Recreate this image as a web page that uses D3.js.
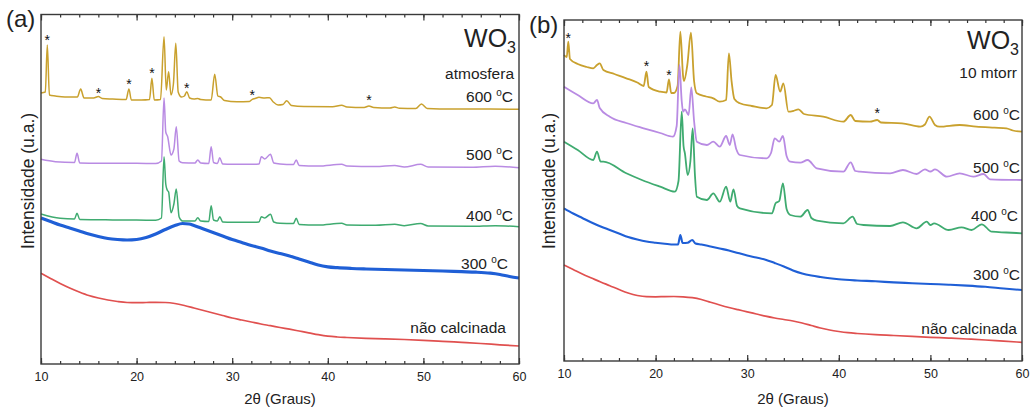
<!DOCTYPE html>
<html>
<head>
<meta charset="utf-8">
<script src="https://cdnjs.cloudflare.com/ajax/libs/d3/7.8.5/d3.min.js"></script>
<style>
  body { margin: 0; background: #fff; }
  text { font-family: "Liberation Sans", Arial, sans-serif; fill: #222; }
</style>
</head>
<body>
<script>

// ---- data: [2theta, intensity (a.u.)] ----

// panel (a) - atmosfera
var atm600 = [[10,271],[10.45,272],[10.66,319],[10.88,269],[11.5,268],[12.5,267],[13.8,267],[14.15,275],[14.5,266],[15.5,266],[16,267.5],[16.4,265.5],[17.5,265],[18.9,264.5],[19.2,275],[19.45,264],[20.5,264],[21.35,264.5],[21.6,285.7],[21.85,264],[22.5,264.5],[22.87,327.3],[23.1,274],[23.35,292.3],[23.6,269],[23.85,280],[24.1,320.7],[24.35,272],[24.7,267],[25,268],[25.25,272.3],[25.55,266],[26,265],[26.4,265.5],[26.7,264.5],[27.8,264],[28.17,289.7],[28.5,268],[28.8,267],[29.2,263.5],[30.5,262.3],[31.8,262.5],[32.1,264.7],[32.4,265.5],[32.8,266.7],[33.4,266],[33.9,266.3],[34.3,262],[34.8,259],[35.3,259.5],[35.7,263.3],[36.2,258.5],[37.5,257.5],[40.5,257.3],[41.45,258.7],[42,257],[43.8,256.5],[44.3,258],[44.8,256.5],[46.5,256],[47,257],[47.5,255.7],[49.2,255.5],[49.8,260],[50.4,255.5],[53,255],[55,255],[57,255],[60,254.7]];
var atm500 = [[10,204.7],[11.5,202.3],[13.5,201.5],[13.77,210.7],[14.05,201],[16,200.7],[18,200.7],[20,200.7],[22,200.5],[22.6,203],[22.87,266],[23.05,232],[23.25,227.3],[23.6,209],[23.9,215],[24.15,237.3],[24.45,203],[24.8,201.3],[26.1,201],[26.4,204],[26.7,201],[27.55,200.5],[27.8,217.3],[28.05,201.5],[28.45,200.5],[28.7,206.3],[29,200],[30,199.7],[32,199.7],[32.8,200],[33.05,207.3],[33.4,205],[34,209.7],[34.35,201],[35,200],[36.4,199.5],[36.7,204],[37,198.5],[39,198],[41.45,199.7],[42,198],[45,197.5],[47,198.5],[48,197],[49.7,199.7],[50.5,197],[55,196.7],[57.5,197.7],[60,196.3]];
var atm400 = [[10,150],[12,145.7],[13.5,145],[13.77,150.7],[14.05,144.5],[16,144.3],[18,144],[20,144],[22,143.7],[22.6,146],[22.87,207.3],[23.05,180],[23.2,174],[23.35,172],[23.6,151.3],[23.9,160],[24.15,175],[24.45,147],[24.8,143],[26.1,143],[26.4,146.3],[26.7,143],[27.55,142.5],[27.8,158.3],[28.05,144],[28.45,143],[28.7,147.3],[29,142],[30,141.7],[32,141.7],[32.8,142],[33.05,147.3],[33.4,146],[34,149.7],[34.35,142],[35,140.7],[36.4,140.5],[36.7,145.7],[37,139.5],[39,139],[41.45,140.7],[42,139],[45,138.7],[47,139.7],[48,138.3],[49.7,140.5],[50.5,138],[55,137.7],[57.5,138.3],[60,137.3]];
var atm300 = [[10,146],[11,142.5],[12,139],[13,136],[14,133],[15,130],[16,127.5],[17,125.5],[18,124.5],[19,124],[20,124.5],[21,126.5],[22,130],[23,134.5],[24,138.5],[24.8,140.5],[25.5,140],[26,138.5],[27,135],[28,131.5],[29,128],[30,124.5],[31,121.5],[32,118.5],[33,116],[34,113],[35,110.5],[36,108],[37,105],[38,102],[39,99],[40,97.2],[41,96.3],[42.5,95.5],[44,95],[46,94.5],[48,94],[50,93.5],[52,93],[54,92.3],[55.5,91.8],[57,90.8],[58,89.5],[59,87.5],[60,86]];
var atmRaw = [[10,90.7],[11,85.5],[12,80.5],[13,76],[14,72],[15,68.5],[16,66],[17,64],[18,62.5],[19,61.5],[20,61.3],[21,61.5],[22,61.7],[23,61.5],[24,60.5],[25,58.5],[26,56],[27,53.5],[28,51],[29,48.5],[30,46],[31,44],[32,42],[33,40],[34,38.3],[35,36.5],[36,34.8],[37,33],[38,31.2],[39,29.3],[40,27.8],[41,27],[42,26.5],[44,25.7],[46,25.1],[48,24.5],[50,23.7],[52,22.7],[54,21.6],[56,20.5],[58,19.2],[60,18]];
var atmStars = [[10.66,327],[16,274],[19.2,283.3],[21.6,294],[25.25,279.3],[32.1,272.3],[44.3,266.7]];
var atmLabelY = [262.3, 204, 143.3, 95, 31.3];

// panel (b) - 10 mtorr
var mt600 = [[10,306],[10.3,304],[10.47,319.3],[10.65,302],[11.5,297],[12.5,294],[13.2,292.7],[13.6,296],[13.9,297.7],[14.3,291],[15.5,287],[16.8,282.7],[18,278.5],[18.7,275],[19,289.3],[19.25,274],[20.5,269.3],[21.2,268.5],[21.46,281.7],[21.7,268],[22,268],[22.4,275],[22.7,329.3],[23,285],[23.1,280],[23.46,296],[23.86,328.3],[24.2,280],[24.5,267.7],[25.5,264.5],[26.3,262.7],[27,259.3],[27.7,261],[28,307.7],[28.3,279.3],[28.6,262],[29.2,257.7],[30.5,255],[32.1,252.7],[32.7,256],[33.1,286],[33.6,269.3],[33.95,277.7],[34.5,249.3],[35,250],[35.6,251.7],[36.2,247],[38.3,244.3],[40.5,239.3],[41.3,246],[41.8,240],[43.4,239.3],[44.2,241],[44.6,238.5],[46.9,237.7],[48.9,234.3],[49.4,236.5],[49.9,244.3],[50.5,236],[51,234.3],[53.2,236],[55,234.3],[57,233.3],[58.3,232.7],[59,230.5],[60,229.3]];
var mt500 = [[10,274.3],[11.5,266],[13.2,257.7],[13.6,261],[13.9,253],[15,244.3],[16.8,238],[18.7,232.7],[20.5,228],[21.9,224.3],[22.3,235],[22.6,296],[22.85,260],[23,249.3],[23.2,251.7],[23.6,246],[23.9,273.7],[24.2,240],[24.5,219.3],[25.6,216],[26.3,219.3],[27,214.3],[27.7,225],[28.1,216],[28.4,226.7],[28.8,212],[29.2,206],[32.1,202.7],[32.6,208],[33,222.7],[33.5,219.3],[33.9,225],[34.3,205],[34.7,199.3],[35.8,198.3],[36.6,201],[37.6,192.7],[40.5,189.3],[41.3,198.7],[41.8,190],[42.3,189.3],[45.6,187.7],[47,191],[48.5,187],[49.4,191.7],[50,189.5],[50.5,191.7],[51.8,184.3],[53.2,187.7],[54.7,184.3],[55.8,187],[56.5,181.7],[60,181]];
var mt400 = [[10,219.3],[11.5,211],[13.2,201],[13.6,209.3],[14,199.3],[14.3,199.3],[16.8,187.7],[18.5,181],[20.5,174.3],[22.1,169.3],[22.5,180],[22.85,249.3],[23.05,215],[23.2,207.7],[23.5,186],[23.8,200],[24.05,232.7],[24.3,185],[24.5,164.3],[25.6,161],[26.3,167.7],[27,159.3],[27.7,174.3],[28.15,159.3],[28.5,171.7],[28.9,155],[29.2,152.7],[32.7,147.7],[33.1,157.7],[33.5,160],[33.9,177.7],[34.3,152],[34.7,146],[35.8,144.3],[36.6,151],[37,143],[37.6,140.3],[40.5,137.7],[41.5,144.3],[42,137],[42.7,136],[45.6,135],[47,138.7],[48.5,132.7],[49.6,139.3],[50,136],[50.4,137.7],[52,131],[53.4,133.7],[54.5,131],[55.6,136.7],[56.7,129.3],[58.3,128.5],[60,127.7]];
var mt300 = [[10,152.7],[11,147.5],[12,143],[13,138.5],[14,134.5],[15,131],[16,127.5],[17,124],[18,121.5],[19,119.5],[20,118.3],[21,117.3],[22,116.5],[22.45,116.5],[22.7,126],[22.95,118],[23.5,118.3],[24,121],[24.35,117.5],[25,116.5],[26,114.5],[27,112.5],[28,110.5],[29,108],[30,105.5],[31,103.5],[32,101.3],[33,98],[34,94.5],[35,90.5],[36,87.5],[37,85.5],[38,84],[39,82.7],[40,81.7],[42,80.5],[44,79.7],[46,78.6],[48,77.8],[50,77],[52,76.3],[54,75.4],[56,74.2],[58,72.5],[60,71]];
var mtRaw = [[10,96],[11,91.5],[12,87],[13,83],[14,79],[15,75.3],[16,71.5],[17,68],[18,65.5],[19,64.3],[20,64.2],[21,64.4],[22,64.5],[23,64.2],[24,63.3],[25,61.5],[26,58.7],[27,56],[28,53.5],[29,51.3],[30,49.2],[31,47],[32,44.8],[33,43],[34,41.5],[35,40],[36,38],[37,35.5],[38,33],[39,31],[40,29.5],[41,28.3],[42,27.5],[44,26.3],[46,25.5],[48,24.6],[50,23.7],[52,22.9],[54,22],[56,21],[58,19.8],[60,18.7]];
var mtStars = [[10.47,326],[19,297.7],[21.46,289.3],[44.2,251]];
var mtLabelY = [241, 187.7, 140.3, 81, 27];

var tempLabels = ["600", "500", "400", "300"];
var rawLabel = "não calcinada";
var xMajor = [10, 20, 30, 40, 50, 60];
var xMinor = d3.range(10, 61, 2);
var colors = ["#c9a12e", "#b98be3", "#3fab70", "#1f5fd6", "#e0504f"];

// ---- layout ----
var svg = d3.select("body").append("svg")
    .attr("width", 1030)
    .attr("height", 409);

var panels = [
  {left: 41, right: 519, top: 14.5, bottom: 364, ymax: 349.5,
   letter: "(a)", letterX: 6, letterY: 27, cond: "atmosfera", condY: 284.7, woY: 317.3,
   series: [atm600, atm500, atm400, atm300, atmRaw], widths: [1.5, 1.5, 1.5, 3.2, 1.7],
   stars: atmStars, labelY: atmLabelY, labelDx: [-6, -6, -6, -11, -13], yTitleX: 34},
  {left: 564, right: 1022, top: 20, bottom: 361, ymax: 341,
   letter: "(b)", letterX: 529, letterY: 33, cond: "10 mtorr", condY: 282.7, woY: 311.7,
   series: [mt600, mt500, mt400, mt300, mtRaw], widths: [1.8, 1.8, 1.8, 2.1, 1.7],
   stars: mtStars, labelY: mtLabelY, labelDx: [-2, -2, -4, -2, -5], yTitleX: 555}
];

panels.forEach(function(p) {

  var x = d3.scaleLinear().domain([10, 60]).range([p.left, p.right]);
  var y = d3.scaleLinear().domain([0, p.ymax]).range([p.bottom, p.top]);

  var g = svg.append("g");

  // curves
  var line = d3.line()
      .curve(d3.curveMonotoneX)
      .x(function(d) { return x(d[0]); })
      .y(function(d) { return y(d[1]); });

  p.series.forEach(function(s, i) {
    g.append("path")
      .datum(s)
      .attr("fill", "none")
      .attr("stroke", colors[i])
      .attr("stroke-width", p.widths[i])
      .attr("stroke-linejoin", "round")
      .attr("d", line);
  });

  // stars on the peaks
  g.selectAll(".star")
    .data(p.stars)
    .enter().append("text")
    .attr("x", function(d) { return x(d[0]); })
    .attr("y", function(d) { return y(d[1]) + 8; })
    .attr("text-anchor", "middle")
    .style("font-size", "14px")
    .style("fill", "#111")
    .text("*");

  // axes, ticks pointing inside
  var bottomMinor = d3.axisBottom(x).tickValues(xMinor).tickSize(-3).tickFormat("");
  var bottomMajor = d3.axisBottom(x).tickValues(xMajor).tickSize(-6).tickPadding(8).tickFormat(d3.format("d"));
  var topMinor = d3.axisTop(x).tickValues(xMinor).tickSize(-3).tickFormat("");
  var topMajor = d3.axisTop(x).tickValues(xMajor).tickSize(-6).tickFormat("");

  [bottomMinor, bottomMajor].forEach(function(ax) {
    g.append("g").attr("transform", "translate(0," + p.bottom + ")").call(ax);
  });
  [topMinor, topMajor].forEach(function(ax) {
    g.append("g").attr("transform", "translate(0," + p.top + ")").call(ax);
  });
  g.selectAll(".domain").remove();
  g.selectAll(".tick line").attr("stroke", "#333").attr("stroke-width", 1.2);
  g.selectAll(".tick text")
    .style("font-size", "12.5px")
    .style("font-family", "'Liberation Sans', Arial, sans-serif")
    .attr("fill", "#222");

  // frame
  g.append("rect")
    .attr("x", p.left)
    .attr("y", p.top)
    .attr("width", p.right - p.left)
    .attr("height", p.bottom - p.top)
    .attr("fill", "none")
    .attr("stroke", "#3a3a3a")
    .attr("stroke-width", 1.4);

  // axis titles
  g.append("text")
    .attr("x", (p.left + p.right) / 2)
    .attr("y", 404)
    .attr("text-anchor", "middle")
    .style("font-size", "15px")
    .text("2θ (Graus)");

  g.append("text")
    .attr("transform", "translate(" + p.yTitleX + ",181) rotate(-90)")
    .attr("text-anchor", "middle")
    .style("font-size", "17.5px")
    .text("Intensidade (u.a.)");

  // panel letter
  g.append("text")
    .attr("x", p.letterX)
    .attr("y", p.letterY)
    .style("font-size", "24px")
    .text(p.letter);

  // WO3 and condition
  var wo = g.append("text")
    .attr("x", p.right - 3)
    .attr("y", y(p.woY))
    .attr("text-anchor", "end")
    .style("font-size", "25px");
  wo.append("tspan").text("WO");
  wo.append("tspan").attr("dy", 6).style("font-size", "16px").text("3");

  g.append("text")
    .attr("x", p.right - 5)
    .attr("y", y(p.condY))
    .attr("text-anchor", "end")
    .style("font-size", "15.5px")
    .text(p.cond);

  // curve labels
  p.labelY.forEach(function(v, i) {
    var t = g.append("text")
      .attr("x", p.right + p.labelDx[i])
      .attr("y", y(v))
      .attr("text-anchor", "end")
      .style("font-size", "15.5px");
    if (i < tempLabels.length) {
      t.append("tspan").text(tempLabels[i] + " ");
      t.append("tspan").attr("dy", -6).style("font-size", "10px").text("o");
      t.append("tspan").attr("dy", 6).text("C");
    } else {
      t.text(rawLabel);
    }
  });
});

</script>
</body>
</html>
